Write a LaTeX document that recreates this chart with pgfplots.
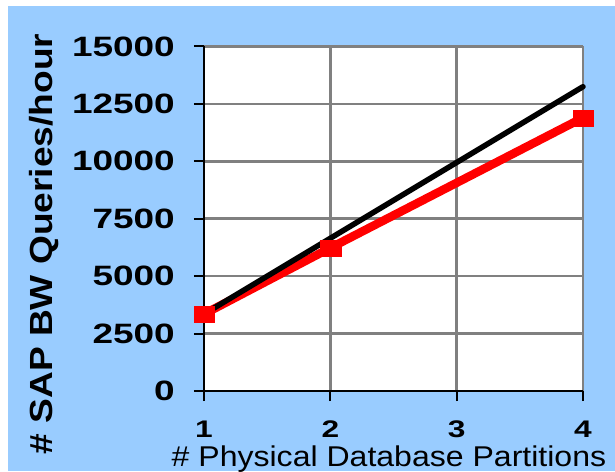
\documentclass[border=0pt]{standalone}
\usepackage{fontspec}
\setmainfont{Liberation Sans}
\newfontface\tickbf{Liberation Sans Bold}[FakeStretch=1.32]
\newfontface\ylabbf{Liberation Sans Bold}[FakeStretch=1.16]
\newfontface\xlabfont{Liberation Sans}[FakeStretch=1.12]
\usepackage{pgfplots}
\pgfplotsset{compat=1.18}
\definecolor{bgblue}{RGB}{153,204,255}
\definecolor{gridgray}{RGB}{128,128,128}
\begin{document}
\begin{tikzpicture}[x=1pt,y=1pt]
\useasboundingbox (0,0) rectangle (615,471);
\fill[white] (0,0) rectangle (615,471);
\fill[bgblue] (8,0) rectangle (615,465);
\begin{axis}[
  at={(204pt,80pt)}, anchor=south west,
  scale only axis, width=379pt, height=344.5pt,
  xmin=1, xmax=4, ymin=0, ymax=15000,
  scaled y ticks=false, scaled x ticks=false,
  xtick={1,2,3,4}, xticklabels={1,2,3,4},
  ytick={0,2500,5000,7500,10000,12500,15000},
  yticklabels={0,2500,5000,7500,10000,12500,15000},
  axis lines=left, axis line style={-, line width=2.5pt, black},
  grid=major, major grid style={line width=2.5pt, gridgray},
  tick style={line width=2pt, black},
  tick align=outside, major tick length=10pt,
  axis background/.style={fill=white},
  yticklabel style={font=\tickbf\fontsize{28}{30}\selectfont, inner sep=0pt, anchor=east, xshift=-19pt},
  xticklabel style={font=\tickbf\fontsize{24}{26}\selectfont, inner sep=0pt, anchor=north, yshift=-20pt},
  xlabel={\# Physical Database Partitions},
  ylabel={\# SAP BW Queries/hour},
  every axis x label/.style={at={(axis description cs:0.488,0)}, anchor=base, yshift=-75.5pt, font=\xlabfont\fontsize{28.6}{30}\selectfont},
  every axis y label/.style={at={(axis description cs:-0.3997,0.4267)}, rotate=90, anchor=base, font=\ylabbf\fontsize{32}{34}\selectfont},
  clip=false,
]
\addplot[red, line width=8.5pt, line join=round] coordinates {(1,3350) (2,6230) (4,11900)};
\addplot[black, line width=5.5pt, line cap=round] coordinates {(1,3350) (2,6650) (3,9950) (4,13250)};
\addplot[red, only marks, mark=square*, mark size=8pt, mark options={xscale=1.3, draw=red, fill=red, line width=0.1pt}] coordinates {(1,3350) (2,6230) (4,11900)};
\end{axis}
\end{tikzpicture}
\end{document}
